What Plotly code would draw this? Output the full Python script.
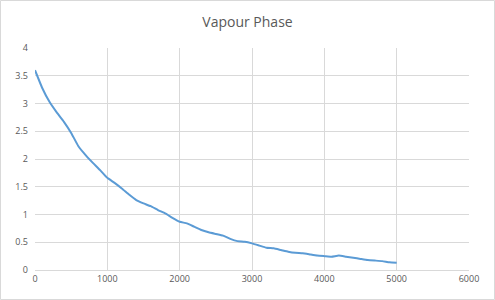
import plotly.graph_objects as go

x_vals = list(range(0, 5001, 100))
y_vals = [3.60, 3.28, 3.03, 2.84, 2.67, 2.47, 2.23, 2.07, 1.93, 1.80,
          1.66, 1.57, 1.47, 1.36, 1.26, 1.20, 1.15, 1.08, 1.02, 0.94,
          0.87, 0.84, 0.78, 0.72, 0.68, 0.65, 0.62, 0.56, 0.52, 0.51,
          0.48, 0.44, 0.40, 0.39, 0.36, 0.33, 0.31, 0.30, 0.28, 0.26,
          0.25, 0.24, 0.26, 0.24, 0.22, 0.20, 0.18, 0.17, 0.16, 0.14,
          0.13]
title_text = "Vapour Phase"

W, H = 495, 300
L, R, T, B = 35, 26, 48, 30
pw, ph = W - L - R, H - T - B

fig = go.Figure()
fig.add_trace(go.Scatter(x=x_vals, y=y_vals, mode="lines",
                         line=dict(color="#5B9BD5", width=2, shape="spline", smoothing=0.4),
                         showlegend=False, hoverinfo="skip"))

grid = "#D9D9D9"
fig.update_layout(
    width=W, height=H,
    margin=dict(l=L, r=R, t=T, b=B),
    paper_bgcolor="white", plot_bgcolor="white",
    font=dict(family="Open Sans, Liberation Sans, sans-serif", color="#595959", size=9),
    title=dict(text=title_text, x=0.5, xanchor="center", y=1 - 22/H, yanchor="middle",
               font=dict(size=14, color="#595959")),
    xaxis=dict(range=[0, 6000], dtick=1000, tick0=0, showgrid=True, gridcolor=grid, gridwidth=1,
               zeroline=False, showline=True, linecolor=grid, mirror=False, ticks="",
               tickfont=dict(size=9, color="#595959"), fixedrange=True),
    yaxis=dict(range=[0, 4], dtick=0.5, tick0=0, showgrid=True, gridcolor=grid, gridwidth=1,
               zeroline=False, showline=False, ticks="", ticklabelstandoff=6,
               tickfont=dict(size=9, color="#595959"), fixedrange=True),
    shapes=[dict(type="rect", xref="paper", yref="paper",
                 x0=(0.5 - L)/pw, x1=(W - 0.5 - L)/pw,
                 y0=(H - B - (H - 0.5))/ph, y1=(H - B - 0.5)/ph,
                 line=dict(color="#D9D9D9", width=1), layer="below")],
)

fig.write_html("out.html")
